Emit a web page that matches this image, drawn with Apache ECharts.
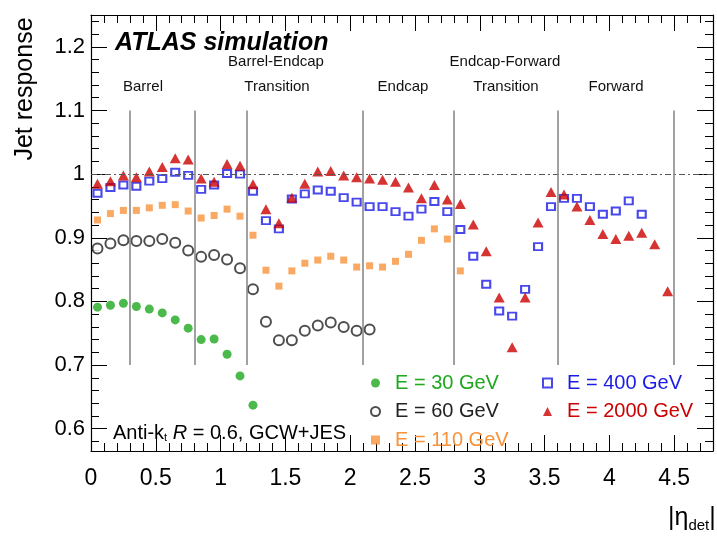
<!DOCTYPE html>
<html><head><meta charset="utf-8">
<script src="https://cdn.jsdelivr.net/npm/echarts@6/dist/echarts.min.js"></script>
<style>html,body{margin:0;padding:0;background:#fff}#c{width:717px;height:542px}</style>
</head><body><div id="c"></div>
<script>
// bin centres in |eta_det|
const eta = [0.05,0.15,0.25,0.35,0.45,0.55,0.65,0.75,0.85,0.95,1.05,1.15,1.25,1.35,1.45,1.55,1.65,1.75,1.85,1.95,2.05,2.15,2.25,2.35,2.45,2.55,2.65,2.75,2.85,2.95,3.05,3.15,3.25,3.35,3.45,3.55,3.65,3.75,3.85,3.95,4.05,4.15,4.25,4.35,4.45];
const resp30 = [0.791,0.794,0.797,0.792,0.788,0.782,0.771,0.758,0.740,0.741,0.717,0.683,0.637];
const resp60 = [0.883,0.891,0.896,0.895,0.895,0.898,0.892,0.880,0.870,0.873,0.866,0.852,0.819,0.768,0.739,0.739,0.754,0.762,0.767,0.760,0.754,0.756];
const resp110 = [0.928,0.938,0.943,0.943,0.947,0.951,0.952,0.942,0.931,0.935,0.945,0.934,0.904,0.849,0.824,0.848,0.860,0.865,0.871,0.865,0.854,0.856,0.854,0.863,0.874,0.896,0.914,0.898,0.848];
const resp400 = [0.970,0.979,0.983,0.981,0.989,0.993,1.003,0.998,0.976,0.983,1.001,1.000,0.973,0.927,0.914,0.961,0.969,0.975,0.973,0.963,0.956,0.949,0.949,0.941,0.934,0.945,0.957,0.941,0.913,0.871,0.827,0.785,0.777,0.819,0.886,0.949,0.962,0.962,0.949,0.937,0.942,0.958,0.937];
const resp2000 = [0.985,0.989,0.998,0.995,1.004,1.011,1.025,1.023,0.993,0.988,1.016,1.013,0.984,0.945,0.923,0.963,0.985,1.004,1.005,0.998,0.995,0.993,0.991,0.988,0.979,0.962,0.983,0.960,0.953,0.921,0.879,0.806,0.728,0.806,0.924,0.972,0.968,0.949,0.928,0.906,0.898,0.903,0.908,0.890,0.816];
const seriesNames = ['E = 30 GeV','E = 60 GeV','E = 110 GeV','E = 400 GeV','E = 2000 GeV'];
const regionBounds = [0.3,0.8,1.2,2.1,2.8,3.6,4.5];
const xTickValues = [0,0.5,1,1.5,2,2.5,3,3.5,4,4.5];
const yTickValues = [0.6,0.7,0.8,0.9,1,1.1,1.2];

const FONT = '"Liberation Sans", Arial, Helvetica, sans-serif';
const colors = ['#1ea81e','#222222','#f7933b','#1c1ce6','#cc0000'];
function pts(vals){ return vals.map((v,i)=>[eta[i], v]); }
function isTick(list, v){ return list.some(t=>Math.abs(t-v)<1e-6); }
function fmt(list){ return v => isTick(list, v) ? String(Math.round(v*10)/10) : ''; }

const chart = echarts.init(document.getElementById('c'), null, {renderer:'canvas'});
const axisCommon = {
  axisLine:{show:true, onZero:false, lineStyle:{color:'#000', width:1.2}},
  axisTick:{show:true, inside:true, length:16, lineStyle:{color:'#000', width:1}},
  minorTick:{show:true, splitNumber:5, length:8, lineStyle:{color:'#000', width:1}},
  splitLine:{show:false}, minorSplitLine:{show:false}
};
const legendCommon = {orient:'vertical', top:373, itemWidth:9, itemHeight:9, itemGap:8.5, padding:0, symbolKeepAspect:true,
  textStyle:{fontFamily:FONT, fontSize:20, lineHeight:20, padding:[0,0,0,10]}};
const option = {
  animation:false,
  backgroundColor:'#fff',
  grid:{left:91, right:4, top:15, bottom:91, containLabel:false},
  xAxis:[
    Object.assign({type:'value', position:'bottom', min:0, max:4.8, interval:0.5,
      axisLabel:{show:true, margin:16, color:'#000', fontFamily:FONT, fontSize:23, formatter:fmt(xTickValues), showMaxLabel:false}}, axisCommon),
    Object.assign({type:'value', position:'top', min:0, max:4.8, interval:0.5,
      axisLabel:{show:false}}, axisCommon)
  ],
  yAxis:[
    Object.assign({type:'value', position:'left', min:0.565, max:1.25, splitNumber:7,
      axisLabel:{show:true, margin:6, color:'#000', fontFamily:FONT, fontSize:22, formatter:fmt(yTickValues), showMinLabel:false, showMaxLabel:false}}, axisCommon),
    Object.assign({type:'value', position:'right', min:0.565, max:1.25, splitNumber:7,
      axisLabel:{show:false}}, axisCommon)
  ],
  legend:[
    Object.assign({left:370, data:[{name:seriesNames[0], textStyle:{color:colors[0]}},{name:seriesNames[1], textStyle:{color:colors[1]}},{name:seriesNames[2], textStyle:{color:colors[2]}}]}, legendCommon),
    Object.assign({left:542, data:[{name:seriesNames[3], textStyle:{color:colors[3]}},{name:seriesNames[4], textStyle:{color:colors[4]}}]}, legendCommon)
  ],
  series:[
    {type:'scatter', name:'separators', data:[], z:1, silent:true,
     markLine:{silent:true, symbol:'none', label:{show:false}, animation:false,
       data:[[{xAxis:0, yAxis:1, lineStyle:{color:'#555', width:1, type:[6,3,2,3]}},{xAxis:4.8, yAxis:1}]]
         .concat(regionBounds.map(b=>[{coord:[b,0.7], lineStyle:{color:'#8a8a8a', width:1.6, type:'solid'}},{coord:[b,1.1]}]))}},
    {type:'scatter', name:seriesNames[0], data:pts(resp30), symbol:'circle', symbolSize:9, itemStyle:{color:colors[0]}, z:3},
    {type:'scatter', name:seriesNames[1], data:pts(resp60), symbol:'emptyCircle', symbolSize:10, itemStyle:{color:colors[1], borderWidth:1.5}, z:3},
    {type:'scatter', name:seriesNames[2], data:pts(resp110), symbol:'rect', symbolSize:7, itemStyle:{color:colors[2]}, z:3},
    {type:'scatter', name:seriesNames[3], data:pts(resp400), symbol:'emptyRect', symbolSize:[8,7], itemStyle:{color:colors[3], borderWidth:1.5}, z:3},
    {type:'scatter', name:seriesNames[4], data:pts(resp2000), symbol:'triangle', symbolSize:[11,10], itemStyle:{color:colors[4]}, z:4}
  ],
  graphic:[
    {type:'text', x:25, y:89, rotation:Math.PI/2, style:{text:'Jet response', font:'25px '+FONT, fill:'#000', textAlign:'center', textVerticalAlign:'middle'}},
    {type:'text', x:115, y:43, style:{text:'ATLAS simulation', font:'italic bold 25px '+FONT, fill:'#000', textAlign:'left', textVerticalAlign:'middle'}},
    {type:'text', x:143, y:87, style:{text:'Barrel', font:'15px '+FONT, fill:'#111', textAlign:'center', textVerticalAlign:'middle'}},
    {type:'text', x:276, y:62, style:{text:'Barrel-Endcap', font:'15px '+FONT, fill:'#111', textAlign:'center', textVerticalAlign:'middle'}},
    {type:'text', x:277, y:87, style:{text:'Transition', font:'15px '+FONT, fill:'#111', textAlign:'center', textVerticalAlign:'middle'}},
    {type:'text', x:403, y:87, style:{text:'Endcap', font:'15px '+FONT, fill:'#111', textAlign:'center', textVerticalAlign:'middle'}},
    {type:'text', x:505, y:62, style:{text:'Endcap-Forward', font:'15px '+FONT, fill:'#111', textAlign:'center', textVerticalAlign:'middle'}},
    {type:'text', x:506, y:87, style:{text:'Transition', font:'15px '+FONT, fill:'#111', textAlign:'center', textVerticalAlign:'middle'}},
    {type:'text', x:616, y:87, style:{text:'Forward', font:'15px '+FONT, fill:'#111', textAlign:'center', textVerticalAlign:'middle'}},
    {type:'text', x:113, y:433, style:{text:'{n|Anti-k}{s|t}{n| }{i|R}{n| = 0.6, GCW+JES}', textVerticalAlign:'middle', textAlign:'left',
      rich:{n:{fontFamily:FONT, fontSize:20, color:'#000'}, i:{fontFamily:FONT, fontSize:20, fontStyle:'italic', color:'#000'}, s:{fontFamily:FONT, fontSize:11, color:'#000', padding:[10,0,0,0]}}}},
    {type:'text', x:668, y:518, style:{text:'{n||η}{s|det}{n||}', textVerticalAlign:'middle', textAlign:'left',
      rich:{n:{fontFamily:FONT, fontSize:25, color:'#000'}, s:{fontFamily:FONT, fontSize:15, color:'#000', padding:[16,0,0,0]}}}}
  ]
};
chart.setOption(option);
</script></body></html>
